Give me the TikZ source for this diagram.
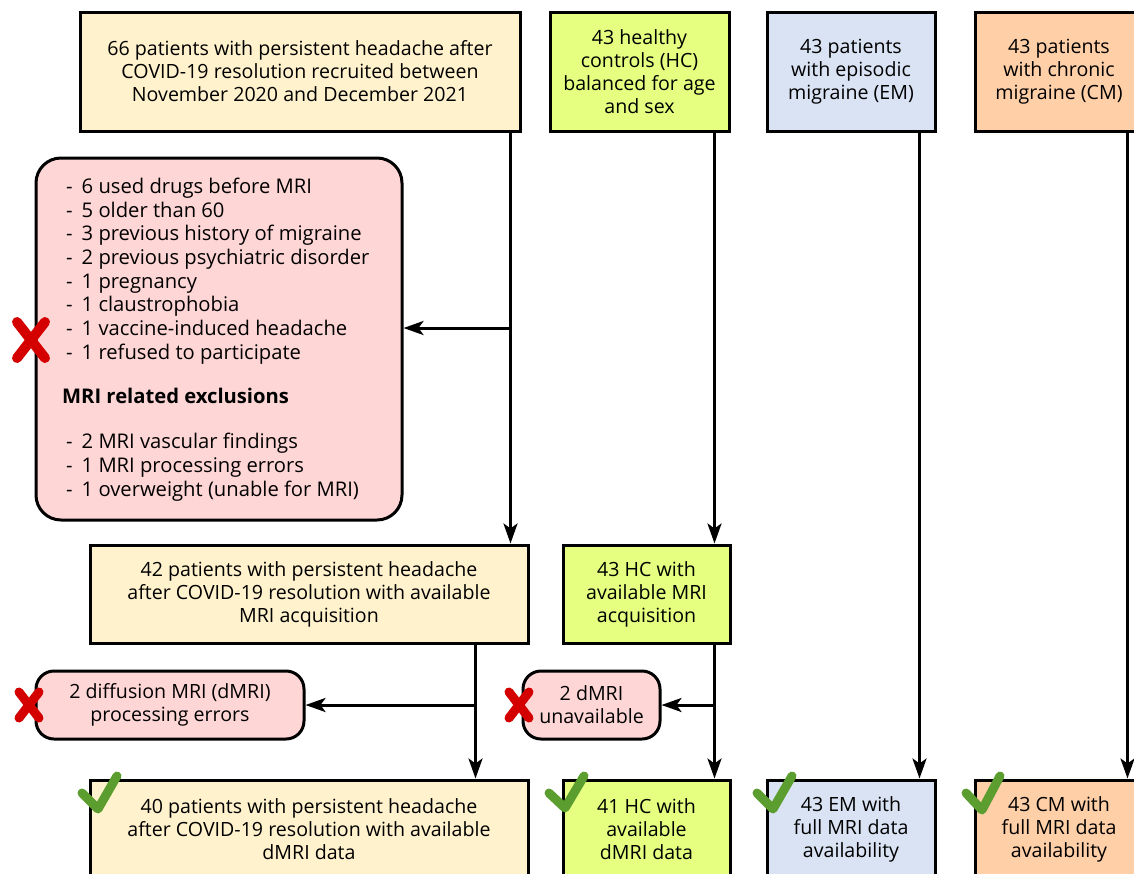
\documentclass[tikz,border=0pt]{standalone}
\usepackage{fontspec}
\setmainfont{Open Sans}
\usetikzlibrary{arrows.meta}
\definecolor{cyel}{HTML}{FFF2CC}
\definecolor{cgreen}{HTML}{E6FF80}
\definecolor{cblue}{HTML}{DAE3F3}
\definecolor{corange}{HTML}{FFCFA8}
\definecolor{cred}{HTML}{FFD6D6}
\definecolor{xred}{HTML}{D40000}
\definecolor{okgreen}{HTML}{5B9E2F}
\newcommand\dsh{-\hspace{9pt}}
\begin{document}
\begin{tikzpicture}[x=1pt,y=-1pt,
  box/.style={draw=black, line width=3pt, align=center, inner sep=0pt,
    font=\fontsize{19.6}{23}\selectfont},
  rbox/.style={box, fill=cred, rounded corners=18pt},
  txt/.style={inner sep=0pt, align=left, anchor=west},
  arr/.style={line width=3pt, -{Stealth[length=20pt,width=14pt,inset=5pt]}},
  xmark/.style={draw=xred, line width=9pt, line cap=round},
  okmark/.style={draw=okgreen, line width=9pt, line cap=round, line join=round}]
\useasboundingbox (0,0) rectangle (1134,873);
% top row
\node[box, fill=cyel, minimum width=440, minimum height=119] (top) at (300,71.5)
  {66 patients with persistent headache after\\COVID-19 resolution recruited between\\November 2020 and December 2021};
\node[box, fill=cgreen, minimum width=179, minimum height=119] (hc) at (639.5,71.5)
  {43 healthy\\controls (HC)\\balanced for age\\and sex};
\node[box, fill=cblue, minimum width=168, minimum height=119] (em) at (851,71.5)
  {43 patients\\with episodic\\migraine (EM)};
\node[box, fill=corange, minimum width=168, minimum height=119] (cm) at (1059,71.5)
  {43 patients\\with chronic\\migraine (CM)};
% exclusion box
\node[box, fill=cred, rounded corners=25pt, minimum width=366, minimum height=362] (ex) at (219,339) {};
\node[txt, font=\fontsize{20.2}{23.7}\selectfont] (exlist) at (66,271)
  {\dsh 6 used drugs before MRI\\\dsh 5 older than 60\\\dsh 3 previous history of migraine\\\dsh 2 previous psychiatric disorder\\\dsh 1 pregnancy\\\dsh 1 claustrophobia\\\dsh 1 vaccine-induced headache\\\dsh 1 refused to participate};
\node[txt, font=\fontsize{20.2}{23.7}\selectfont\bfseries] (exhead) at (62,396) {MRI related exclusions};
\node[txt, font=\fontsize{20.2}{24}\selectfont] (exmri) at (66,467)
  {\dsh 2 MRI vascular findings\\\dsh 1 MRI processing errors\\\dsh 1 overweight (unable for MRI)};
% middle row
\node[box, fill=cyel, minimum width=438, minimum height=98] (mid) at (309,594)
  {42 patients with persistent headache\\after COVID-19 resolution with available\\MRI acquisition};
\node[box, fill=cgreen, minimum width=167, minimum height=98] (mhc) at (646.5,594)
  {43 HC with\\available MRI\\acquisition};
\node[rbox, minimum width=268, minimum height=68] (dl) at (170,705)
  {2 diffusion MRI (dMRI)\\processing errors};
\node[rbox, minimum width=137, minimum height=68] (dr) at (591.5,705)
  {2 dMRI\\unavailable};
% bottom row
\node[box, fill=cyel, minimum width=438, minimum height=98] (bot) at (309,829)
  {40 patients with persistent headache\\after COVID-19 resolution with available\\dMRI data};
\node[box, fill=cgreen, minimum width=167, minimum height=98] (bhc) at (646.5,829)
  {41 HC with\\available\\dMRI data};
\node[box, fill=cblue, minimum width=168, minimum height=98] (bem) at (851,829)
  {43 EM with\\full MRI data\\availability};
\node[box, fill=corange, minimum width=168, minimum height=98] (bcm) at (1059,829)
  {43 CM with\\full MRI data\\availability};
% connectors
\coordinate (t1) at ([xshift=-11pt]top.south east);
\draw[arr] (t1) -- (t1 |- mid.north);
\coordinate (j1) at (t1 |- 0,328);
\draw[arr] (j1) -- (j1 -| ex.east);
\coordinate (h1) at ([xshift=-16pt]hc.south east);
\draw[arr] (h1) -- (h1 |- mhc.north);
\coordinate (e1) at ([xshift=-17pt]em.south east);
\draw[arr] (e1) -- (e1 |- bem.north);
\coordinate (c1) at ([xshift=-17pt]cm.south east);
\draw[arr] (c1) -- (c1 |- bcm.north);
\coordinate (m1) at ([xshift=-54pt]mid.south east);
\draw[arr] (m1) -- (m1 |- bot.north);
\coordinate (j2) at (m1 |- dl.east);
\draw[arr] (j2) -- (dl.east);
\coordinate (g1) at ([xshift=-17pt]mhc.south east);
\draw[arr] (g1) -- (g1 |- bhc.north);
\coordinate (j3) at (g1 |- dr.east);
\draw[arr] (j3) -- (dr.east);
% cross marks
\draw[xmark, line width=10pt] (17,322) -- (45,358) (45,322) -- (17,358);
\draw[xmark] (19,692) -- (39,718) (39,692) -- (19,718);
\draw[xmark] (509,692) -- (529,718) (529,692) -- (509,718);
% check marks
\draw[okmark] (82,793) -- (98,809) -- (117,776);
\draw[okmark] (549,793) -- (565,808) -- (584,776);
\draw[okmark] (757,793) -- (773,809) -- (792,776);
\draw[okmark] (966,793) -- (982,810) -- (1000,776);
\end{tikzpicture}
\end{document}
